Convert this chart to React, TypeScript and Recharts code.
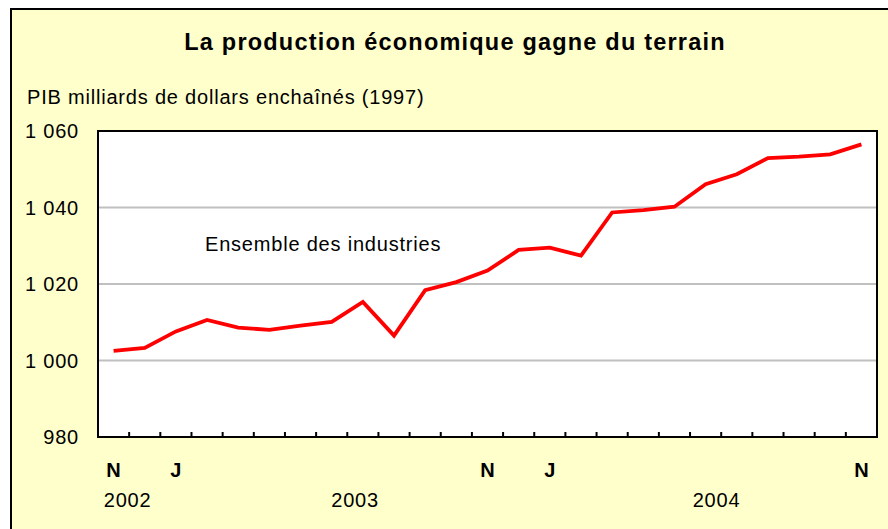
import { LineChart, Line, XAxis, YAxis, CartesianGrid, ReferenceArea } from 'recharts'

const monthLabels = ['N', '', 'J', '', '', '', '', '', '', '', '', '', 'N', '', 'J', '', '', '', '', '', '', '', '', '', 'N']
const gdp = [
  1002.5, 1003.3, 1007.6, 1010.6, 1008.6, 1008.0, 1009.1, 1010.1, 1015.3, 1006.5, 1018.4, 1020.5,
  1023.5, 1028.9, 1029.5, 1027.4, 1038.7, 1039.3, 1040.2, 1046.1, 1048.7, 1052.9, 1053.3, 1053.9, 1056.5,
]
const yearLabels = ['2002', '2003', '2004']
const yTicks = [980, 1000, 1020, 1040, 1060]

const data = gdp.map((v, i) => ({ i, v }))

// where each year label sits, in category units
const yearPos = [0.45, 7.75, 19.35]
const markTicks = Array.from({ length: monthLabels.length + 1 }, (_, k) => k - 0.5)
const labelTicks = monthLabels.map((m, i) => (m ? i : -1)).filter(i => i >= 0)
const allTicks = [...markTicks, ...labelTicks, ...yearPos]

const font = '"Liberation Sans", Arial, sans-serif'
const ls = 0.8

function XTick(props: any) {
  const { x, y, payload } = props
  const v = payload.value
  const yi = yearPos.indexOf(v)
  if (yi >= 0) {
    return (
      <text x={x} y={y + 70} textAnchor="middle" fontSize={20} letterSpacing={ls} fontFamily={font} fill="#000">
        {yearLabels[yi]}
      </text>
    )
  }
  if (Number.isInteger(v)) {
    return (
      <text x={x} y={y + 40} textAnchor="middle" fontSize={20} fontWeight="bold" fontFamily={font} fill="#000">
        {monthLabels[v]}
      </text>
    )
  }
  return <line x1={x} x2={x} y1={y} y2={y - 5} stroke="#000" strokeWidth={2} />
}

const fmt = (v: number) => (v >= 1000 ? `1 ${String(v % 1000).padStart(3, '0')}` : String(v))

export default function App() {
  return (
    <div style={{ position: 'absolute', left: 0, top: 0, width: 888, height: 529, background: '#fff', overflow: 'hidden' }}>
      <div style={{ position: 'absolute', left: 10, top: 8, width: 900, height: 540, border: '2px solid #000', background: '#FFFFCC' }} />
      <svg width={888} height={529} style={{ position: 'absolute', left: 0, top: 0 }}>
        <text x={455} y={50} textAnchor="middle" fontSize={23.5} letterSpacing={1.2} fontWeight="bold" fontFamily={font} fill="#000">
          La production économique gagne du terrain
        </text>
        <text x={27} y={104} fontSize={20} letterSpacing={ls} fontFamily={font} fill="#000">
          PIB milliards de dollars enchaînés (1997)
        </text>
      </svg>
      <div style={{ position: 'absolute', left: 0, top: 0 }}>
        <LineChart width={888} height={529} data={data} margin={{ top: 131, right: 11, bottom: 32, left: 10 }}>
          <CartesianGrid vertical={false} stroke="#c0c0c0" strokeWidth={2} fill="#fff" />
          <XAxis
            dataKey="i"
            type="number"
            domain={[-0.5, 24.5]}
            ticks={allTicks}
            interval={0}
            tick={<XTick />}
            tickLine={false}
            axisLine={false}
            tickSize={0}
            tickMargin={0}
            height={60}
          />
          <YAxis
            domain={[980, 1060]}
            ticks={yTicks}
            interval={0}
            width={88}
            axisLine={false}
            tickLine={false}
            tickSize={0}
            tickMargin={19}
            tickFormatter={fmt}
            tick={{ fill: '#000', fontSize: 20, fontFamily: font, letterSpacing: ls }}
          />
          <ReferenceArea x1={-0.5} x2={24.5} y1={980} y2={1060} fill="none" stroke="#000" strokeWidth={2} ifOverflow="visible" />
          <Line dataKey="v" stroke="#ff0000" strokeWidth={3.8} dot={false} isAnimationActive={false} />
        </LineChart>
      </div>
      <svg width={888} height={529} style={{ position: 'absolute', left: 0, top: 0, pointerEvents: 'none' }}>
        <text x={205} y={251} fontSize={20} letterSpacing={ls} fontFamily={font} fill="#000">
          Ensemble des industries
        </text>
      </svg>
    </div>
  )
}
